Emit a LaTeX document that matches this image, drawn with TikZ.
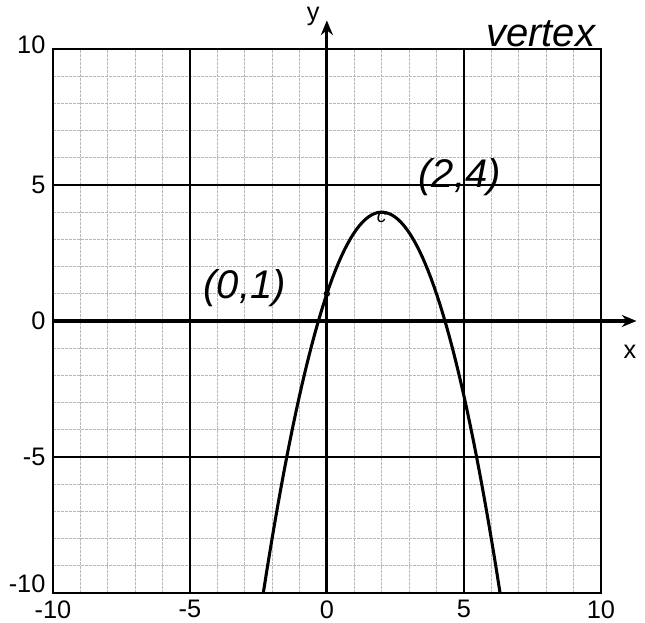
\documentclass[tikz,border=0pt]{standalone}
\usepackage{fontspec}
\setmainfont{Liberation Sans}
\usetikzlibrary{arrows.meta}
\begin{document}
\begin{tikzpicture}
                [x=20.55pt,y=20.4pt,
                minor/.style={black!28,dash pattern=on 2pt off 1pt,line width=0.5pt},
                major/.style={black,line width=1.2pt},
                axis/.style={-{Stealth[length=11pt,width=9pt]},line width=2.3pt},
                ticklabel/.style={font=\fontsize{19}{21}\selectfont},
                hand/.style={font=\fontsize{30}{32}\selectfont\itshape},
                ]
                \useasboundingbox (-11.93,-11.07) rectangle (11.61,11.80);
                % grid
                \foreach \k in {-9,...,9}{\draw[minor] (\k,-10) -- (\k,10); \draw[minor] (-10,\k) -- (10,\k);}
                \foreach \k in {-5,5}{\draw[major] (\k,-10) -- (\k,10); \draw[major] (-10,\k) -- (10,\k);}
                \draw[major] (-10,-10) rectangle (10,10);
                % axes
                \coordinate (xstart) at (-10,0);
                \coordinate (xend) at (11.3,0);
                \coordinate (ystart) at (0,-10);
                \coordinate (yend) at (0,11.05);
                \draw[axis] (xstart) -- (xend);
                \draw[axis] (ystart) -- (yend);
                \node[ticklabel] (xlab) at (11.06,-1.15) {x};
                \node[ticklabel] (ylab) at (-0.5,11.2) {y};
                % tick labels
                \foreach \v/\h in {10/10.15,5/5,0/0,-5/-5,-10/-9.65}
                    \node[ticklabel,anchor=east] (left\v) at (-10.1,\h) {\v};
                \foreach \v in {-10,-5,0,5,10}
                    \node[ticklabel] (bottom\v) at (\v,-10.6) {\v};
                % parabola
                \draw[line width=2.3pt,domain=-2.32:6.32,samples=80] plot (\x,{-0.75*(\x-2)*(\x-2)+4});
                \node[draw,circle,inner sep=1.3pt,line width=1pt] (yint) at (0,1) {};
                \node[inner sep=0pt,font=\Large\itshape] (vertex) at (2,3.8) {c};
                \node[hand] (yintlab) at (-3.0,1.2) {(0,1)};
                \node[hand] (vertexlab) at (4.85,5.3) {(2,4)};
                \node[hand] (title) at (7.8,10.55) {vertex};
            \end{tikzpicture}
\end{document}
